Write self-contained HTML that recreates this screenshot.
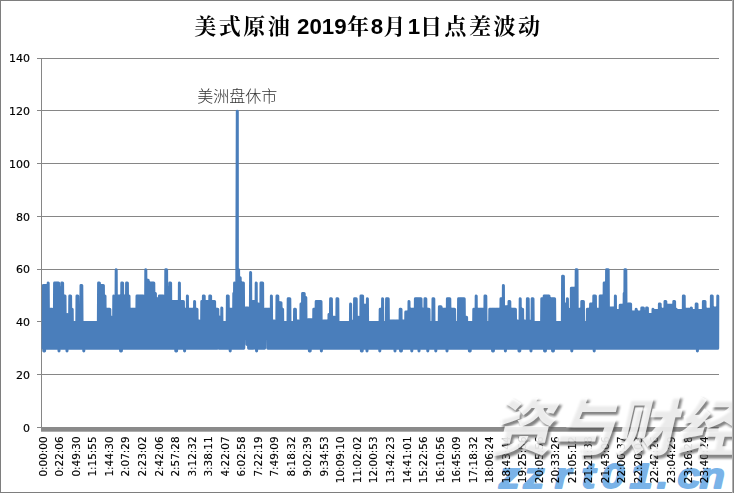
<!DOCTYPE html>
<html lang="zh-CN">
<head>
<meta charset="utf-8">
<title>美式原油 2019年8月1日点差波动</title>
<style>
html,body{margin:0;padding:0;background:#fff;}
#chart{position:relative;width:734px;height:493px;overflow:hidden;background:#fff;}
svg{display:block;}
.ax text{font-family:"DejaVu Sans","Liberation Sans",sans-serif;font-size:10.4px;fill:#000;stroke:#000;stroke-width:0.15px;}
.title{font-family:"Liberation Sans","Noto Serif CJK SC",serif;font-weight:bold;font-size:22px;fill:#000;}
.title .c{font-family:"Liberation Serif","Noto Serif CJK SC",serif;font-weight:700;font-size:22px;letter-spacing:2.5px;}
.title .d{font-family:"Liberation Sans",sans-serif;font-weight:bold;font-size:22.3px;letter-spacing:0;}
.note{font-family:"Liberation Sans","Noto Sans CJK SC",sans-serif;font-weight:300;font-size:16px;fill:#333333;}
.wm1{font-family:"Liberation Sans","Noto Sans CJK SC",sans-serif;font-weight:900;font-size:60px;}
.wm2{font-family:"Liberation Sans",sans-serif;font-weight:bold;font-style:italic;font-size:36px;fill:#7ab3e8;}
</style>
</head>
<body>
<div id="chart">
<svg width="734" height="493" viewBox="0 0 734 493">
<defs><filter id="bl" x="-5%" y="-20%" width="110%" height="140%"><feGaussianBlur stdDeviation="0.9"/></filter><filter id="gs" x="0" y="0" width="100%" height="100%" filterUnits="userSpaceOnUse" color-interpolation-filters="sRGB"><feColorMatrix type="saturate" values="0"/></filter></defs>
<rect x="0" y="0" width="734" height="493" fill="#ffffff"/>
<g stroke="#868686" stroke-width="1" shape-rendering="crispEdges">
<line x1="37" y1="374.5" x2="718.5" y2="374.5"/>
<line x1="37" y1="321.5" x2="718.5" y2="321.5"/>
<line x1="37" y1="269.5" x2="718.5" y2="269.5"/>
<line x1="37" y1="216.5" x2="718.5" y2="216.5"/>
<line x1="37" y1="163.5" x2="718.5" y2="163.5"/>
<line x1="37" y1="110.5" x2="718.5" y2="110.5"/>
<line x1="37" y1="58.5" x2="718.5" y2="58.5"/>
<line x1="41.5" y1="58" x2="41.5" y2="428"/>
</g>
<rect x="37" y="427" width="681.5" height="1" fill="#868686"/>
<rect x="41" y="427" width="677.5" height="4.7" fill="#8a8a8a"/>
<polyline points="43.0,348.2 43.4,285.6 43.8,351.1 44.2,285.6 44.6,351.1 45.0,285.6 45.4,348.2 45.8,285.6 46.2,348.2 46.6,285.6 47.0,348.2 47.4,285.6 47.8,348.2 48.2,282.9 48.6,348.2 49.0,309.3 49.4,348.2 49.8,309.3 50.2,348.2 50.6,309.3 51.0,348.2 51.4,309.3 51.8,348.2 52.2,309.3 52.6,348.2 53.0,309.3 53.4,348.2 53.8,309.3 54.2,348.2 54.6,282.9 55.0,348.2 55.4,282.9 55.8,348.2 56.2,282.9 56.6,348.2 57.0,282.9 57.4,348.2 57.8,282.9 58.2,348.2 58.6,282.9 59.0,351.1 59.4,288.2 59.8,348.2 60.2,288.2 60.6,348.2 61.0,288.2 61.4,348.2 61.8,282.9 62.2,348.2 62.6,282.9 63.0,348.2 63.4,296.1 63.8,348.2 64.2,296.1 64.6,348.2 65.0,296.1 65.4,348.2 65.8,314.6 66.2,348.2 66.6,314.6 67.0,351.1 67.4,314.6 67.8,348.2 68.2,314.6 68.6,348.2 69.0,314.6 69.4,348.2 69.8,296.1 70.2,348.2 70.6,296.1 71.0,348.2 71.4,309.3 71.8,348.2 72.2,309.3 72.6,348.2 73.0,322.5 73.4,348.2 73.8,322.5 74.2,348.2 74.6,322.5 75.0,348.2 75.4,322.5 75.8,348.2 76.2,322.5 76.6,348.2 77.0,296.1 77.4,348.2 77.8,296.1 78.2,348.2 78.6,317.2 79.0,348.2 79.4,317.2 79.8,348.2 80.2,317.2 80.6,348.2 81.0,285.6 81.4,348.2 81.8,285.6 82.2,348.2 82.6,322.5 83.0,348.2 83.4,322.5 83.8,351.1 84.2,322.5 84.6,348.2 85.0,322.5 85.4,348.2 85.8,322.5 86.2,348.2 86.6,322.5 87.0,348.2 87.4,322.5 87.8,348.2 88.2,322.5 88.6,348.2 89.0,322.5 89.4,348.2 89.8,322.5 90.2,348.2 90.6,322.5 91.0,348.2 91.4,322.5 91.8,348.2 92.2,322.5 92.6,348.2 93.0,322.5 93.4,348.2 93.8,322.5 94.2,348.2 94.6,322.5 95.0,348.2 95.4,322.5 95.8,348.2 96.2,322.5 96.6,348.2 97.0,322.5 97.4,348.2 97.8,322.5 98.2,348.2 98.6,282.9 99.0,348.2 99.4,282.9 99.8,348.2 100.2,285.6 100.6,348.2 101.0,285.6 101.4,348.2 101.8,285.6 102.2,348.2 102.6,285.6 103.0,348.2 103.4,285.6 103.8,348.2 104.2,296.1 104.6,348.2 105.0,296.1 105.4,348.2 105.8,309.3 106.2,348.2 106.6,309.3 107.0,348.2 107.4,309.3 107.8,348.2 108.2,309.3 108.6,348.2 109.0,309.3 109.4,348.2 109.8,309.3 110.2,348.2 110.6,317.2 111.0,348.2 111.4,317.2 111.8,348.2 112.2,317.2 112.6,348.2 113.0,317.2 113.4,348.2 113.8,296.1 114.2,348.2 114.6,296.1 115.0,348.2 115.4,296.1 115.8,348.2 116.2,269.8 116.6,348.2 117.0,296.1 117.4,348.2 117.8,296.1 118.2,348.2 118.6,296.1 119.0,348.2 119.4,296.1 119.8,348.2 120.2,296.1 120.6,351.1 121.0,296.1 121.4,351.1 121.8,282.9 122.2,348.2 122.6,282.9 123.0,348.2 123.4,296.1 123.8,348.2 124.2,296.1 124.6,348.2 125.0,296.1 125.4,348.2 125.8,296.1 126.2,348.2 126.6,282.9 127.0,348.2 127.4,282.9 127.8,348.2 128.2,296.1 128.6,348.2 129.0,296.1 129.4,348.2 129.8,309.3 130.2,348.2 130.6,309.3 131.0,348.2 131.4,309.3 131.8,348.2 132.2,309.3 132.6,348.2 133.0,309.3 133.4,348.2 133.8,309.3 134.2,348.2 134.6,309.3 135.0,348.2 135.4,309.3 135.8,348.2 136.2,309.3 136.6,348.2 137.0,296.1 137.4,348.2 137.8,296.1 138.2,348.2 138.6,296.1 139.0,348.2 139.4,296.1 139.8,348.2 140.2,296.1 140.6,348.2 141.0,296.1 141.4,348.2 141.8,296.1 142.2,348.2 142.6,296.1 143.0,348.2 143.4,296.1 143.8,348.2 144.2,296.1 144.6,348.2 145.0,296.1 145.4,348.2 145.8,269.8 146.2,348.2 146.6,280.3 147.0,348.2 147.4,280.3 147.8,348.2 148.2,280.3 148.6,348.2 149.0,282.9 149.4,348.2 149.8,282.9 150.2,348.2 150.6,282.9 151.0,348.2 151.4,282.9 151.8,348.2 152.2,282.9 152.6,348.2 153.0,282.9 153.4,348.2 153.8,282.9 154.2,348.2 154.6,293.5 155.0,348.2 155.4,293.5 155.8,348.2 156.2,298.7 156.6,348.2 157.0,298.7 157.4,348.2 157.8,298.7 158.2,348.2 158.6,298.7 159.0,348.2 159.4,296.1 159.8,348.2 160.2,296.1 160.6,348.2 161.0,296.1 161.4,348.2 161.8,296.1 162.2,348.2 162.6,296.1 163.0,348.2 163.4,296.1 163.8,348.2 164.2,296.1 164.6,348.2 165.0,296.1 165.4,348.2 165.8,269.8 166.2,348.2 166.6,269.8 167.0,348.2 167.4,288.2 167.8,348.2 168.2,288.2 168.6,348.2 169.0,288.2 169.4,348.2 169.8,282.9 170.2,348.2 170.6,282.9 171.0,348.2 171.4,301.4 171.8,348.2 172.2,301.4 172.6,348.2 173.0,301.4 173.4,348.2 173.8,301.4 174.2,348.2 174.6,301.4 175.0,348.2 175.4,301.4 175.8,351.1 176.2,301.4 176.6,351.1 177.0,301.4 177.4,348.2 177.8,301.4 178.2,348.2 178.6,301.4 179.0,348.2 179.4,282.9 179.8,348.2 180.2,301.4 180.6,348.2 181.0,301.4 181.4,348.2 181.8,301.4 182.2,348.2 182.6,301.4 183.0,348.2 183.4,301.4 183.8,348.2 184.2,309.3 184.6,351.1 185.0,309.3 185.4,348.2 185.8,309.3 186.2,348.2 186.6,309.3 187.0,348.2 187.4,296.1 187.8,348.2 188.2,309.3 188.6,348.2 189.0,309.3 189.4,348.2 189.8,309.3 190.2,348.2 190.6,309.3 191.0,348.2 191.4,309.3 191.8,348.2 192.2,309.3 192.6,348.2 193.0,309.3 193.4,348.2 193.8,309.3 194.2,348.2 194.6,301.4 195.0,348.2 195.4,309.3 195.8,348.2 196.2,309.3 196.6,348.2 197.0,309.3 197.4,348.2 197.8,321.1 198.2,348.2 198.6,321.1 199.0,348.2 199.4,321.1 199.8,348.2 200.2,321.1 200.6,348.2 201.0,321.1 201.4,348.2 201.8,301.4 202.2,348.2 202.6,301.4 203.0,348.2 203.4,296.1 203.8,348.2 204.2,296.1 204.6,348.2 205.0,301.4 205.4,348.2 205.8,301.4 206.2,348.2 206.6,301.4 207.0,348.2 207.4,301.4 207.8,348.2 208.2,301.4 208.6,348.2 209.0,301.4 209.4,348.2 209.8,296.1 210.2,348.2 210.6,296.1 211.0,348.2 211.4,301.4 211.8,348.2 212.2,301.4 212.6,348.2 213.0,301.4 213.4,348.2 213.8,301.4 214.2,348.2 214.6,301.4 215.0,348.2 215.4,309.3 215.8,348.2 216.2,309.3 216.6,348.2 217.0,309.3 217.4,348.2 217.8,309.3 218.2,341.8 218.6,317.2 219.0,348.2 219.4,317.2 219.8,348.2 220.2,317.2 220.6,348.2 221.0,317.2 221.4,348.2 221.8,308.0 222.2,348.2 222.6,322.5 223.0,348.2 223.4,322.5 223.8,348.2 224.2,322.5 224.6,348.2 225.0,322.5 225.4,348.2 225.8,322.5 226.2,348.2 226.6,322.5 227.0,348.2 227.4,296.1 227.8,348.2 228.2,296.1 228.6,348.2 229.0,309.3 229.4,348.2 229.8,309.3 230.2,351.1 230.6,309.3 231.0,348.2 231.4,309.3 231.8,348.2 232.2,309.3 232.6,348.2 233.0,309.3 233.4,348.2 233.8,293.5 234.2,348.2 234.6,282.9 235.0,348.2 235.4,282.9 235.8,348.2 236.2,282.9 236.6,348.2 237.3,111.2 237.4,348.2 237.8,282.9 238.2,348.2 238.6,269.8 239.0,348.2 239.4,277.7 239.8,348.2 240.2,277.7 240.6,348.2 241.0,282.9 241.4,348.2 241.8,282.9 242.2,348.2 242.6,282.9 243.0,348.2 243.4,282.9 243.8,348.2 244.2,308.0 244.6,337.9 245.0,308.0 245.4,337.9 245.8,308.0 246.2,337.9 246.6,308.0 247.0,344.5 247.4,308.0 247.8,344.5 248.2,308.0 248.6,348.2 249.0,308.0 249.4,348.2 249.8,308.0 250.2,348.2 250.6,272.4 251.0,348.2 251.4,301.4 251.8,348.2 252.2,301.4 252.6,348.2 253.0,301.4 253.4,348.2 253.8,301.4 254.2,344.5 254.6,301.4 255.0,348.2 255.4,301.4 255.8,348.2 256.2,282.9 256.6,351.1 257.0,304.0 257.4,348.2 257.8,304.0 258.2,348.2 258.6,304.0 259.0,348.2 259.4,304.0 259.8,348.2 260.2,304.0 260.6,348.2 261.0,282.9 261.4,348.2 261.8,282.9 262.2,348.2 262.6,282.9 263.0,348.2 263.4,309.3 263.8,348.2 264.2,309.3 264.6,348.2 265.0,309.3 265.4,337.9 265.8,309.3 266.2,337.9 266.6,309.3 267.0,337.9 267.4,309.3 267.8,348.2 268.2,309.3 268.6,348.2 269.0,309.3 269.4,348.2 269.8,309.3 270.2,348.2 270.6,309.3 271.0,348.2 271.4,296.1 271.8,348.2 272.2,321.1 272.6,348.2 273.0,321.1 273.4,348.2 273.8,321.1 274.2,348.2 274.6,321.1 275.0,348.2 275.4,321.1 275.8,348.2 276.2,321.1 276.6,348.2 277.0,296.1 277.4,348.2 277.8,296.1 278.2,348.2 278.6,302.7 279.0,348.2 279.4,302.7 279.8,348.2 280.2,302.7 280.6,348.2 281.0,302.7 281.4,348.2 281.8,309.3 282.2,348.2 282.6,309.3 283.0,348.2 283.4,322.5 283.8,348.2 284.2,322.5 284.6,348.2 285.0,322.5 285.4,348.2 285.8,322.5 286.2,348.2 286.6,322.5 287.0,348.2 287.4,322.5 287.8,348.2 288.2,298.7 288.6,348.2 289.0,298.7 289.4,348.2 289.8,298.7 290.2,348.2 290.6,322.5 291.0,348.2 291.4,322.5 291.8,348.2 292.2,322.5 292.6,348.2 293.0,322.5 293.4,348.2 293.8,322.5 294.2,348.2 294.6,309.3 295.0,348.2 295.4,309.3 295.8,348.2 296.2,321.1 296.6,348.2 297.0,321.1 297.4,348.2 297.8,321.1 298.2,348.2 298.6,321.1 299.0,348.2 299.4,321.1 299.8,348.2 300.2,321.1 300.6,348.2 301.0,304.0 301.4,348.2 301.8,304.0 302.2,348.2 302.6,293.5 303.0,348.2 303.4,293.5 303.8,348.2 304.2,293.5 304.6,348.2 305.0,297.4 305.4,348.2 305.8,297.4 306.2,348.2 306.6,319.8 307.0,348.2 307.4,319.8 307.8,348.2 308.2,319.8 308.6,348.2 309.0,319.8 309.4,351.1 309.8,319.8 310.2,351.1 310.6,319.8 311.0,348.2 311.4,319.8 311.8,348.2 312.2,319.8 312.6,348.2 313.0,319.8 313.4,348.2 313.8,309.3 314.2,348.2 314.6,309.3 315.0,348.2 315.4,309.3 315.8,348.2 316.2,301.4 316.6,348.2 317.0,301.4 317.4,348.2 317.8,301.4 318.2,348.2 318.6,301.4 319.0,348.2 319.4,301.4 319.8,348.2 320.2,301.4 320.6,348.2 321.0,301.4 321.4,351.1 321.8,321.1 322.2,348.2 322.6,321.1 323.0,348.2 323.4,321.1 323.8,348.2 324.2,321.1 324.6,348.2 325.0,321.1 325.4,348.2 325.8,321.1 326.2,348.2 326.6,321.1 327.0,348.2 327.4,321.1 327.8,348.2 328.2,321.1 328.6,348.2 329.0,314.6 329.4,348.2 329.8,314.6 330.2,348.2 330.6,298.7 331.0,348.2 331.4,298.7 331.8,348.2 332.2,317.2 332.6,348.2 333.0,317.2 333.4,348.2 333.8,317.2 334.2,348.2 334.6,317.2 335.0,348.2 335.4,317.2 335.8,348.2 336.2,317.2 336.6,348.2 337.0,298.7 337.4,348.2 337.8,298.7 338.2,348.2 338.6,322.5 339.0,348.2 339.4,322.5 339.8,348.2 340.2,322.5 340.6,348.2 341.0,322.5 341.4,348.2 341.8,322.5 342.2,348.2 342.6,322.5 343.0,348.2 343.4,322.5 343.8,348.2 344.2,322.5 344.6,348.2 345.0,322.5 345.4,348.2 345.8,322.5 346.2,348.2 346.6,322.5 347.0,348.2 347.4,322.5 347.8,348.2 348.2,322.5 348.6,348.2 349.0,322.5 349.4,348.2 349.8,322.5 350.2,348.2 350.6,304.0 351.0,348.2 351.4,321.1 351.8,348.2 352.2,321.1 352.6,348.2 353.0,321.1 353.4,348.2 353.8,321.1 354.2,348.2 354.6,298.7 355.0,348.2 355.4,298.7 355.8,348.2 356.2,298.7 356.6,348.2 357.0,317.2 357.4,348.2 357.8,317.2 358.2,348.2 358.6,317.2 359.0,348.2 359.4,317.2 359.8,348.2 360.2,317.2 360.6,348.2 361.0,296.1 361.4,351.1 361.8,296.1 362.2,351.1 362.6,296.1 363.0,348.2 363.4,305.3 363.8,348.2 364.2,305.3 364.6,348.2 365.0,305.3 365.4,348.2 365.8,305.3 366.2,348.2 366.6,305.3 367.0,351.1 367.4,298.7 367.8,348.2 368.2,322.5 368.6,348.2 369.0,322.5 369.4,348.2 369.8,322.5 370.2,348.2 370.6,322.5 371.0,348.2 371.4,322.5 371.8,348.2 372.2,322.5 372.6,348.2 373.0,322.5 373.4,348.2 373.8,322.5 374.2,348.2 374.6,322.5 375.0,348.2 375.4,322.5 375.8,348.2 376.2,322.5 376.6,348.2 377.0,322.5 377.4,348.2 377.8,322.5 378.2,348.2 378.6,322.5 379.0,348.2 379.4,322.5 379.8,351.1 380.2,309.3 380.6,348.2 381.0,309.3 381.4,348.2 381.8,309.3 382.2,348.2 382.6,298.7 383.0,348.2 383.4,322.5 383.8,348.2 384.2,322.5 384.6,348.2 385.0,322.5 385.4,348.2 385.8,322.5 386.2,348.2 386.6,298.7 387.0,348.2 387.4,298.7 387.8,348.2 388.2,298.7 388.6,348.2 389.0,321.1 389.4,348.2 389.8,321.1 390.2,348.2 390.6,321.1 391.0,348.2 391.4,321.1 391.8,348.2 392.2,321.1 392.6,348.2 393.0,321.1 393.4,348.2 393.8,321.1 394.2,348.2 394.6,321.1 395.0,351.1 395.4,321.1 395.8,348.2 396.2,321.1 396.6,348.2 397.0,321.1 397.4,348.2 397.8,321.1 398.2,348.2 398.6,321.1 399.0,348.2 399.4,321.1 399.8,348.2 400.2,309.3 400.6,351.1 401.0,309.3 401.4,351.1 401.8,321.1 402.2,348.2 402.6,321.1 403.0,348.2 403.4,321.1 403.8,348.2 404.2,321.1 404.6,348.2 405.0,321.1 405.4,348.2 405.8,311.9 406.2,348.2 406.6,311.9 407.0,348.2 407.4,311.9 407.8,348.2 408.2,311.9 408.6,348.2 409.0,301.4 409.4,348.2 409.8,309.3 410.2,348.2 410.6,309.3 411.0,348.2 411.4,309.3 411.8,351.1 412.2,309.3 412.6,348.2 413.0,309.3 413.4,348.2 413.8,309.3 414.2,348.2 414.6,309.3 415.0,348.2 415.4,298.7 415.8,348.2 416.2,298.7 416.6,348.2 417.0,298.7 417.4,348.2 417.8,298.7 418.2,348.2 418.6,298.7 419.0,351.1 419.4,298.7 419.8,348.2 420.2,298.7 420.6,348.2 421.0,298.7 421.4,348.2 421.8,309.3 422.2,348.2 422.6,309.3 423.0,348.2 423.4,309.3 423.8,348.2 424.2,309.3 424.6,348.2 425.0,298.7 425.4,348.2 425.8,298.7 426.2,348.2 426.6,309.3 427.0,348.2 427.4,309.3 427.8,351.1 428.2,309.3 428.6,348.2 429.0,309.3 429.4,348.2 429.8,322.5 430.2,348.2 430.6,322.5 431.0,348.2 431.4,322.5 431.8,348.2 432.2,322.5 432.6,348.2 433.0,298.7 433.4,348.2 433.8,298.7 434.2,348.2 434.6,322.5 435.0,348.2 435.4,322.5 435.8,351.1 436.2,322.5 436.6,348.2 437.0,322.5 437.4,348.2 437.8,322.5 438.2,348.2 438.6,322.5 439.0,348.2 439.4,306.7 439.8,348.2 440.2,306.7 440.6,348.2 441.0,306.7 441.4,348.2 441.8,309.3 442.2,348.2 442.6,309.3 443.0,348.2 443.4,309.3 443.8,348.2 444.2,309.3 444.6,348.2 445.0,309.3 445.4,348.2 445.8,309.3 446.2,348.2 446.6,309.3 447.0,351.1 447.4,298.7 447.8,348.2 448.2,298.7 448.6,348.2 449.0,298.7 449.4,348.2 449.8,298.7 450.2,348.2 450.6,309.3 451.0,348.2 451.4,309.3 451.8,348.2 452.2,309.3 452.6,348.2 453.0,309.3 453.4,348.2 453.8,309.3 454.2,348.2 454.6,309.3 455.0,348.2 455.4,322.5 455.8,348.2 456.2,322.5 456.6,348.2 457.0,322.5 457.4,348.2 457.8,322.5 458.2,348.2 458.6,298.7 459.0,348.2 459.4,298.7 459.8,348.2 460.2,298.7 460.6,348.2 461.0,298.7 461.4,348.2 461.8,298.7 462.2,348.2 462.6,298.7 463.0,348.2 463.4,298.7 463.8,348.2 464.2,298.7 464.6,348.2 465.0,317.2 465.4,348.2 465.8,317.2 466.2,348.2 466.6,317.2 467.0,348.2 467.4,322.5 467.8,348.2 468.2,322.5 468.6,348.2 469.0,322.5 469.4,351.1 469.8,322.5 470.2,351.1 470.6,322.5 471.0,348.2 471.4,322.5 471.8,348.2 472.2,322.5 472.6,348.2 473.0,322.5 473.4,348.2 473.8,309.3 474.2,348.2 474.6,309.3 475.0,348.2 475.4,309.3 475.8,348.2 476.2,296.1 476.6,348.2 477.0,309.3 477.4,348.2 477.8,309.3 478.2,348.2 478.6,309.3 479.0,348.2 479.4,309.3 479.8,348.2 480.2,309.3 480.6,348.2 481.0,309.3 481.4,348.2 481.8,309.3 482.2,348.2 482.6,309.3 483.0,348.2 483.4,309.3 483.8,348.2 484.2,309.3 484.6,348.2 485.0,296.1 485.4,348.2 485.8,296.1 486.2,348.2 486.6,322.5 487.0,348.2 487.4,322.5 487.8,348.2 488.2,322.5 488.6,348.2 489.0,322.5 489.4,348.2 489.8,309.3 490.2,348.2 490.6,309.3 491.0,348.2 491.4,309.3 491.8,348.2 492.2,309.3 492.6,351.1 493.0,309.3 493.4,351.1 493.8,309.3 494.2,348.2 494.6,309.3 495.0,348.2 495.4,309.3 495.8,348.2 496.2,309.3 496.6,348.2 497.0,309.3 497.4,348.2 497.8,309.3 498.2,348.2 498.6,309.3 499.0,348.2 499.4,309.3 499.8,348.2 500.2,309.3 500.6,348.2 501.0,298.7 501.4,348.2 501.8,298.7 502.2,348.2 502.6,298.7 503.0,348.2 503.4,285.6 503.8,348.2 504.2,306.7 504.6,348.2 505.0,306.7 505.4,351.1 505.8,306.7 506.2,348.2 506.6,306.7 507.0,348.2 507.4,306.7 507.8,348.2 508.2,306.7 508.6,348.2 509.0,301.4 509.4,348.2 509.8,301.4 510.2,348.2 510.6,309.3 511.0,348.2 511.4,309.3 511.8,348.2 512.2,309.3 512.6,348.2 513.0,309.3 513.4,348.2 513.8,309.3 514.2,348.2 514.6,309.3 515.0,348.2 515.4,309.3 515.8,348.2 516.2,321.1 516.6,348.2 517.0,321.1 517.4,348.2 517.8,321.1 518.2,348.2 518.6,321.1 519.0,351.1 519.4,321.1 519.8,351.1 520.2,298.7 520.6,348.2 521.0,309.3 521.4,348.2 521.8,309.3 522.2,348.2 522.6,309.3 523.0,348.2 523.4,321.1 523.8,348.2 524.2,321.1 524.6,348.2 525.0,321.1 525.4,348.2 525.8,321.1 526.2,348.2 526.6,321.1 527.0,348.2 527.4,298.7 527.8,348.2 528.2,298.7 528.6,348.2 529.0,321.1 529.4,348.2 529.8,321.1 530.2,348.2 530.6,321.1 531.0,351.1 531.4,321.1 531.8,348.2 532.2,298.7 532.6,348.2 533.0,298.7 533.4,348.2 533.8,322.5 534.2,348.2 534.6,322.5 535.0,348.2 535.4,322.5 535.8,348.2 536.2,322.5 536.6,348.2 537.0,322.5 537.4,348.2 537.8,322.5 538.2,348.2 538.6,322.5 539.0,348.2 539.4,322.5 539.8,348.2 540.2,322.5 540.6,348.2 541.0,322.5 541.4,348.2 541.8,298.7 542.2,348.2 542.6,298.7 543.0,348.2 543.4,298.7 543.8,348.2 544.2,296.1 544.6,351.1 545.0,296.1 545.4,351.1 545.8,296.1 546.2,348.2 546.6,296.1 547.0,348.2 547.4,296.1 547.8,348.2 548.2,296.1 548.6,348.2 549.0,296.1 549.4,348.2 549.8,298.7 550.2,348.2 550.6,298.7 551.0,348.2 551.4,298.7 551.8,348.2 552.2,298.7 552.6,351.1 553.0,298.7 553.4,351.1 553.8,298.7 554.2,348.2 554.6,298.7 555.0,348.2 555.4,322.5 555.8,348.2 556.2,322.5 556.6,348.2 557.0,322.5 557.4,348.2 557.8,322.5 558.2,348.2 558.6,322.5 559.0,348.2 559.4,322.5 559.8,348.2 560.2,322.5 560.6,348.2 561.0,322.5 561.4,348.2 561.8,322.5 562.2,348.2 562.6,276.3 563.0,348.2 563.4,276.3 563.8,348.2 564.2,304.0 564.6,348.2 565.0,304.0 565.4,348.2 565.8,304.0 566.2,348.2 566.6,304.0 567.0,348.2 567.4,298.7 567.8,348.2 568.2,309.3 568.6,348.2 569.0,309.3 569.4,348.2 569.8,309.3 570.2,348.2 570.6,309.3 571.0,348.2 571.4,288.2 571.8,351.1 572.2,288.2 572.6,348.2 573.0,288.2 573.4,348.2 573.8,288.2 574.2,348.2 574.6,288.2 575.0,348.2 575.4,288.2 575.8,348.2 576.2,269.8 576.6,348.2 577.0,269.8 577.4,348.2 577.8,309.3 578.2,348.2 578.6,309.3 579.0,348.2 579.4,309.3 579.8,348.2 580.2,309.3 580.6,348.2 581.0,309.3 581.4,348.2 581.8,301.4 582.2,348.2 582.6,301.4 583.0,348.2 583.4,301.4 583.8,348.2 584.2,322.5 584.6,348.2 585.0,322.5 585.4,348.2 585.8,322.5 586.2,348.2 586.6,322.5 587.0,348.2 587.4,309.3 587.8,348.2 588.2,309.3 588.6,348.2 589.0,309.3 589.4,348.2 589.8,309.3 590.2,348.2 590.6,304.0 591.0,348.2 591.4,304.0 591.8,348.2 592.2,304.0 592.6,348.2 593.0,304.0 593.4,348.2 593.8,296.1 594.2,351.1 594.6,296.1 595.0,348.2 595.4,296.1 595.8,348.2 596.2,309.3 596.6,348.2 597.0,309.3 597.4,348.2 597.8,309.3 598.2,348.2 598.6,309.3 599.0,348.2 599.4,309.3 599.8,348.2 600.2,296.1 600.6,348.2 601.0,296.1 601.4,348.2 601.8,296.1 602.2,348.2 602.6,296.1 603.0,348.2 603.4,296.1 603.8,348.2 604.2,282.9 604.6,348.2 605.0,282.9 605.4,348.2 605.8,282.9 606.2,348.2 606.6,269.8 607.0,348.2 607.4,269.8 607.8,348.2 608.2,269.8 608.6,348.2 609.0,308.0 609.4,348.2 609.8,308.0 610.2,348.2 610.6,308.0 611.0,348.2 611.4,308.0 611.8,348.2 612.2,308.0 612.6,348.2 613.0,308.0 613.4,348.2 613.8,308.0 614.2,348.2 614.6,308.0 615.0,348.2 615.4,296.1 615.8,348.2 616.2,310.6 616.6,348.2 617.0,310.6 617.4,348.2 617.8,310.6 618.2,348.2 618.6,310.6 619.0,348.2 619.4,310.6 619.8,348.2 620.2,305.3 620.6,348.2 621.0,305.3 621.4,348.2 621.8,305.3 622.2,348.2 622.6,305.3 623.0,348.2 623.4,305.3 623.8,348.2 624.2,293.5 624.6,348.2 625.0,269.8 625.4,348.2 625.8,269.8 626.2,348.2 626.6,304.0 627.0,348.2 627.4,304.0 627.8,348.2 628.2,304.0 628.6,348.2 629.0,304.0 629.4,348.2 629.8,304.0 630.2,348.2 630.6,304.0 631.0,348.2 631.4,311.9 631.8,348.2 632.2,311.9 632.6,348.2 633.0,311.9 633.4,348.2 633.8,311.9 634.2,348.2 634.6,311.9 635.0,348.2 635.4,311.9 635.8,348.2 636.2,309.3 636.6,348.2 637.0,311.9 637.4,348.2 637.8,311.9 638.2,348.2 638.6,311.9 639.0,348.2 639.4,311.9 639.8,348.2 640.2,311.9 640.6,348.2 641.0,311.9 641.4,348.2 641.8,308.0 642.2,348.2 642.6,308.0 643.0,348.2 643.4,308.0 643.8,348.2 644.2,311.9 644.6,348.2 645.0,311.9 645.4,348.2 645.8,311.9 646.2,348.2 646.6,308.0 647.0,348.2 647.4,308.0 647.8,348.2 648.2,314.6 648.6,348.2 649.0,314.6 649.4,348.2 649.8,314.6 650.2,348.2 650.6,314.6 651.0,348.2 651.4,314.6 651.8,348.2 652.2,314.6 652.6,348.2 653.0,309.3 653.4,348.2 653.8,310.6 654.2,348.2 654.6,310.6 655.0,348.2 655.4,310.6 655.8,348.2 656.2,310.6 656.6,348.2 657.0,310.6 657.4,348.2 657.8,310.6 658.2,348.2 658.6,310.6 659.0,348.2 659.4,304.0 659.8,348.2 660.2,304.0 660.6,348.2 661.0,309.3 661.4,348.2 661.8,309.3 662.2,348.2 662.6,309.3 663.0,348.2 663.4,309.3 663.8,348.2 664.2,309.3 664.6,348.2 665.0,301.4 665.4,348.2 665.8,301.4 666.2,348.2 666.6,305.3 667.0,348.2 667.4,305.3 667.8,348.2 668.2,305.3 668.6,348.2 669.0,305.3 669.4,348.2 669.8,305.3 670.2,348.2 670.6,305.3 671.0,348.2 671.4,305.3 671.8,348.2 672.2,305.3 672.6,348.2 673.0,305.3 673.4,348.2 673.8,301.4 674.2,348.2 674.6,301.4 675.0,348.2 675.4,309.3 675.8,348.2 676.2,309.3 676.6,348.2 677.0,310.6 677.4,348.2 677.8,310.6 678.2,348.2 678.6,310.6 679.0,348.2 679.4,310.6 679.8,348.2 680.2,310.6 680.6,348.2 681.0,310.6 681.4,348.2 681.8,310.6 682.2,348.2 682.6,310.6 683.0,348.2 683.4,296.1 683.8,348.2 684.2,296.1 684.6,348.2 685.0,309.3 685.4,348.2 685.8,309.3 686.2,348.2 686.6,309.3 687.0,348.2 687.4,309.3 687.8,348.2 688.2,309.3 688.6,348.2 689.0,309.3 689.4,348.2 689.8,309.3 690.2,348.2 690.6,309.3 691.0,348.2 691.4,308.0 691.8,348.2 692.2,310.6 692.6,348.2 693.0,310.6 693.4,348.2 693.8,310.6 694.2,348.2 694.6,310.6 695.0,348.2 695.4,310.6 695.8,348.2 696.2,304.0 696.6,348.2 697.0,304.0 697.4,351.1 697.8,310.6 698.2,348.2 698.6,310.6 699.0,348.2 699.4,310.6 699.8,348.2 700.2,310.6 700.6,348.2 701.0,310.6 701.4,348.2 701.8,310.6 702.2,348.2 702.6,310.6 703.0,348.2 703.4,301.4 703.8,348.2 704.2,301.4 704.6,348.2 705.0,301.4 705.4,348.2 705.8,309.3 706.2,348.2 706.6,309.3 707.0,348.2 707.4,309.3 707.8,348.2 708.2,309.3 708.6,348.2 709.0,309.3 709.4,348.2 709.8,309.3 710.2,348.2 710.6,309.3 711.0,348.2 711.4,296.1 711.8,348.2 712.2,296.1 712.6,348.2 713.0,308.0 713.4,348.2 713.8,308.0 714.2,348.2 714.6,308.0 715.0,348.2 715.4,308.0 715.8,348.2 716.2,308.0 716.6,348.2 717.0,308.0 717.4,348.2 717.8,296.1 717.7,348.2" fill="none" stroke="#4a7ebb" stroke-width="3" stroke-linejoin="round" stroke-linecap="round"/>
<g transform="translate(0,487.6) scale(1.15,1)"><text class="wm2" x="433.91 455.30 482.35 505.74 522.87 547.48 571.13 589.04 608.26" y="0" stroke="#7ab3e8" stroke-width="1.8" stroke-linejoin="round">zzrt01.cn</text></g>
<g class="ax" filter="url(#gs)">
<text transform="translate(30.0,431.9) scale(1.06,1)" text-anchor="end">0</text>
<text transform="translate(30.0,379.0) scale(1.06,1)" text-anchor="end">20</text>
<text transform="translate(30.0,326.2) scale(1.06,1)" text-anchor="end">40</text>
<text transform="translate(30.0,273.4) scale(1.06,1)" text-anchor="end">60</text>
<text transform="translate(30.0,220.5) scale(1.06,1)" text-anchor="end">80</text>
<text transform="translate(30.0,167.7) scale(1.06,1)" text-anchor="end">100</text>
<text transform="translate(30.0,114.8) scale(1.06,1)" text-anchor="end">120</text>
<text transform="translate(30.0,62.0) scale(1.06,1)" text-anchor="end">140</text>
<text transform="translate(46.8,436.5) rotate(-90)" text-anchor="end">0:00:00</text>
<text transform="translate(63.3,436.5) rotate(-90)" text-anchor="end">0:22:06</text>
<text transform="translate(79.9,436.5) rotate(-90)" text-anchor="end">0:49:30</text>
<text transform="translate(96.4,436.5) rotate(-90)" text-anchor="end">1:15:55</text>
<text transform="translate(112.9,436.5) rotate(-90)" text-anchor="end">1:44:30</text>
<text transform="translate(129.4,436.5) rotate(-90)" text-anchor="end">2:07:29</text>
<text transform="translate(146.0,436.5) rotate(-90)" text-anchor="end">2:23:02</text>
<text transform="translate(162.5,436.5) rotate(-90)" text-anchor="end">2:42:06</text>
<text transform="translate(179.0,436.5) rotate(-90)" text-anchor="end">2:57:28</text>
<text transform="translate(195.6,436.5) rotate(-90)" text-anchor="end">3:12:32</text>
<text transform="translate(212.1,436.5) rotate(-90)" text-anchor="end">3:38:11</text>
<text transform="translate(228.6,436.5) rotate(-90)" text-anchor="end">4:22:07</text>
<text transform="translate(245.2,436.5) rotate(-90)" text-anchor="end">6:02:58</text>
<text transform="translate(261.7,436.5) rotate(-90)" text-anchor="end">7:22:19</text>
<text transform="translate(278.2,436.5) rotate(-90)" text-anchor="end">7:49:09</text>
<text transform="translate(294.8,436.5) rotate(-90)" text-anchor="end">8:18:32</text>
<text transform="translate(311.3,436.5) rotate(-90)" text-anchor="end">9:02:39</text>
<text transform="translate(327.8,436.5) rotate(-90)" text-anchor="end">9:34:53</text>
<text transform="translate(344.3,436.5) rotate(-90)" text-anchor="end">10:09:10</text>
<text transform="translate(360.9,436.5) rotate(-90)" text-anchor="end">11:02:02</text>
<text transform="translate(377.4,436.5) rotate(-90)" text-anchor="end">12:00:53</text>
<text transform="translate(393.9,436.5) rotate(-90)" text-anchor="end">13:42:23</text>
<text transform="translate(410.5,436.5) rotate(-90)" text-anchor="end">14:41:01</text>
<text transform="translate(427.0,436.5) rotate(-90)" text-anchor="end">15:22:56</text>
<text transform="translate(443.5,436.5) rotate(-90)" text-anchor="end">16:10:56</text>
<text transform="translate(460.1,436.5) rotate(-90)" text-anchor="end">16:45:09</text>
<text transform="translate(476.6,436.5) rotate(-90)" text-anchor="end">17:18:32</text>
<text transform="translate(493.1,436.5) rotate(-90)" text-anchor="end">18:06:24</text>
<text transform="translate(509.6,436.5) rotate(-90)" text-anchor="end">18:43:44</text>
<text transform="translate(526.2,436.5) rotate(-90)" text-anchor="end">19:25:56</text>
<text transform="translate(542.7,436.5) rotate(-90)" text-anchor="end">20:05:56</text>
<text transform="translate(559.2,436.5) rotate(-90)" text-anchor="end">20:33:26</text>
<text transform="translate(575.8,436.5) rotate(-90)" text-anchor="end">21:05:12</text>
<text transform="translate(592.3,436.5) rotate(-90)" text-anchor="end">21:21:38</text>
<text transform="translate(608.8,436.5) rotate(-90)" text-anchor="end">21:43:06</text>
<text transform="translate(625.4,436.5) rotate(-90)" text-anchor="end">22:00:37</text>
<text transform="translate(641.9,436.5) rotate(-90)" text-anchor="end">22:20:03</text>
<text transform="translate(658.4,436.5) rotate(-90)" text-anchor="end">22:42:26</text>
<text transform="translate(674.9,436.5) rotate(-90)" text-anchor="end">23:04:29</text>
<text transform="translate(691.5,436.5) rotate(-90)" text-anchor="end">23:26:28</text>
<text transform="translate(708.0,436.5) rotate(-90)" text-anchor="end">23:40:24</text>
</g>
<g filter="url(#gs)"><text class="title" x="194.3" y="33.8"><tspan class="c">美式原油</tspan><tspan class="d" dx="-1.5"> 2019</tspan><tspan class="c" dx="0.5">年</tspan><tspan class="d" dx="-1">8</tspan><tspan class="c" dx="0.4">月</tspan><tspan class="d" dx="-0.3">1</tspan><tspan class="c" dx="0">日点差波动</tspan></text></g>
<g filter="url(#gs)"><text class="note" x="237.3" y="101.5" text-anchor="middle">美洲盘休市</text></g>
<g transform="translate(490,450) skewX(-13) scale(1.03,1.05)">
<text class="wm1" x="2.6" y="3" fill="#505050" fill-opacity="0.7" filter="url(#bl)">资与财经</text>
<text class="wm1" x="0" y="0" fill="#ffffff" fill-opacity="0.84">资与财经</text>
</g>
<rect x="0.5" y="0.5" width="733" height="492" fill="none" stroke="#7e7e7e" stroke-width="1"/>
<line x1="732.5" y1="0" x2="732.5" y2="493" stroke="#b0b0b0" stroke-width="1"/>
</svg>
</div>
</body>
</html>
